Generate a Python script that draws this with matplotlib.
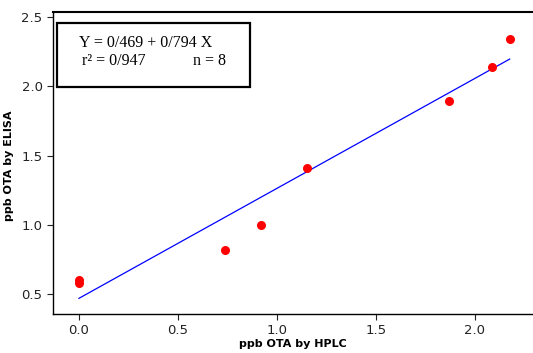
import matplotlib.pyplot as plt
from matplotlib.patches import Rectangle

# data
hplc = [0.0, 0.0, 0.74, 0.92, 1.15, 1.87, 2.085, 2.175]
elisa = [0.60, 0.58, 0.82, 1.00, 1.41, 1.89, 2.14, 2.34]
intercept = 0.469
slope = 0.794
x_ticks = [0.0, 0.5, 1.0, 1.5, 2.0]
y_ticks = [0.5, 1.0, 1.5, 2.0, 2.5]

fig = plt.figure(figsize=(5.33, 3.53), dpi=100)
ax = fig.add_axes([53/533, 1 - 314/353, 1 - 53/533, (314 - 12)/353])

ax.scatter(hplc, elisa, s=30, color='red', zorder=3)
x0, x1 = min(hplc), max(hplc)
ax.plot([x0, x1], [intercept + slope*x0, intercept + slope*x1], color='blue', linewidth=0.9)

ax.set_xlim(-0.131, 2.293)
ax.set_ylim(0.356, 2.536)
ax.set_xticks(x_ticks, labels=['%.1f' % v for v in x_ticks])
ax.set_yticks(y_ticks, labels=['%.1f' % v for v in y_ticks])
ax.spines['right'].set_visible(False)
for s in ['left', 'bottom']:
    ax.spines[s].set_linewidth(1.0)
ax.spines['top'].set_linewidth(1.5)
ax.tick_params(direction='out', length=4, width=0.8, labelsize=9.5, colors='#222222')
ax.set_xlabel('ppb OTA by HPLC', fontsize=8, fontweight='bold', labelpad=1)
ax.set_ylabel('ppb OTA by ELISA', fontsize=8, fontweight='bold')
ax.yaxis.set_label_coords(-0.081, 0.49)

# equation box
fig.patches.append(Rectangle((57/533, 1 - 87/353), 193/533, 64/353, transform=fig.transFigure,
                             fill=False, edgecolor='black', linewidth=1.6))
serif = 'Liberation Serif'
fig.text(79/533, 1 - 47/353, 'Y = 0/469 + 0/794 X', family=serif, fontsize=11.5)
fig.text(82/533, 1 - 65/353, 'r² = 0/947', family=serif, fontsize=11.5)
fig.text(193/533, 1 - 65/353, 'n = 8', family=serif, fontsize=11.5)

fig.savefig('out.png', dpi=100)
